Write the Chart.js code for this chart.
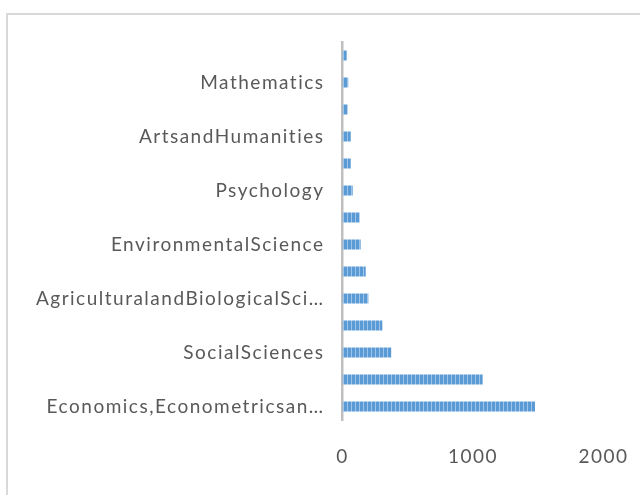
<!DOCTYPE html>
<html>
<head>
<meta charset="utf-8">
<script src="https://cdn.jsdelivr.net/npm/chart.js@4/dist/chart.umd.min.js"></script>
<style>
  html, body { margin: 0; padding: 0; background: #ffffff; overflow: hidden; }
  #wrap { width: 640px; height: 495px; position: relative; }
</style>
</head>
<body>
<div id="wrap"><canvas id="chart" width="640" height="495"></canvas></div>
<script>
// Subject areas, listed from the bottom bar upwards
const categories = [
  'Economics,Econometricsan\u2026',
  'Business,ManagementandAccounting',
  'SocialSciences',
  'DecisionSciences',
  'AgriculturalandBiologicalSci\u2026',
  'Energy',
  'EnvironmentalScience',
  'ComputerScience',
  'Psychology',
  'Engineering',
  'ArtsandHumanities',
  'Medicine',
  'Mathematics',
  'EarthandPlanetarySciences'
];

// Document counts per subject area
const documentCounts = [1475, 1074, 374, 305, 198, 178, 139, 132, 78, 63, 63, 40, 44, 32];

// Value axis ticks
const xTicks = [0, 1000, 2000];

// Vertical-stripe fill for the bars
function stripeFill() {
  const c = document.createElement('canvas');
  c.width = 4; c.height = 1;
  const g = c.getContext('2d');
  g.fillStyle = '#5b9bd5';
  g.fillRect(0, 0, 4, 1);
  g.fillStyle = '#9fc4ea';
  g.fillRect(3, 0, 1, 1);
  return g.createPattern(c, 'repeat');
}

// White background, light outer frame and the loose letter spacing of the labels
const framePlugin = {
  id: 'frame',
  beforeDraw(chart) {
    const ctx = chart.ctx;
    ctx.save();
    ctx.fillStyle = '#ffffff';
    ctx.fillRect(0, 0, chart.width, chart.height);
    ctx.strokeStyle = '#d9d9d9';
    ctx.lineWidth = 2;
    ctx.strokeRect(7, 14, 800, 700);
    ctx.restore();
    ctx.letterSpacing = '1.5px';
  }
};

const labelFont = { family: 'Lato, "Open Sans", sans-serif', size: 19 };

new Chart(document.getElementById('chart'), {
  type: 'bar',
  data: {
    labels: categories,
    datasets: [{
      data: documentCounts,
      backgroundColor: stripeFill(),
      borderWidth: 0,
      barPercentage: 0.37,
      categoryPercentage: 1
    }]
  },
  options: {
    indexAxis: 'y',
    responsive: false,
    animation: false,
    layout: { padding: { top: 42, right: 36.5, left: 0, bottom: 0 } },
    plugins: { legend: { display: false }, tooltip: { enabled: false } },
    scales: {
      x: {
        min: xTicks[0],
        max: xTicks[xTicks.length - 1],
        afterBuildTicks(scale) { scale.ticks = xTicks.map(v => ({ value: v })); },
        grid: { display: false, drawTicks: false },
        border: { display: false },
        ticks: {
          color: '#595959',
          font: labelFont,
          padding: 25,
          maxRotation: 0,
          callback: (value) => String(value)
        },
        afterFit(scale) {
          scale.height = 75;
          scale.paddingLeft = 0;
          scale.paddingRight = 0;
        }
      },
      y: {
        reverse: true,
        grid: { display: false, drawTicks: false },
        border: { display: true, color: '#bfbfbf', width: 2.5 },
        ticks: {
          color: '#595959',
          font: labelFont,
          padding: 18,
          autoSkip: false,
          callback(value, index) {
            return index % 2 === 0 ? this.getLabelForValue(value) : '';
          }
        },
        afterFit(scale) { scale.width = 342.5; }
      }
    }
  },
  plugins: [framePlugin]
});
</script>
</body>
</html>
